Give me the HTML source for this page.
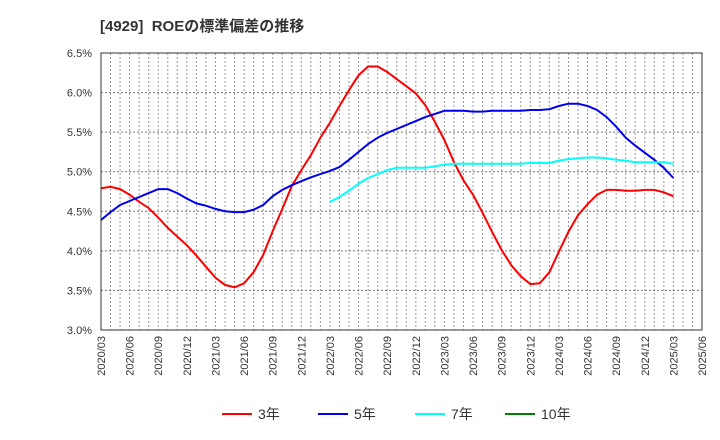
<!DOCTYPE html>
<html><head><meta charset="utf-8"><style>body{margin:0;background:#fff}svg{display:block;font-family:"Liberation Sans","Noto Sans CJK JP",sans-serif}</style></head>
<body>
<svg id="c" width="720" height="440">
<text x="100" y="31" font-size="15" font-weight="bold" fill="#333" style="white-space:pre">[4929]  ROEの標準偏差の推移</text>
<g id="grid"></g><g id="axes"></g><g id="series"></g>
<g id="legend"></g>
</svg>
<script>
const ticksY=[3.0,3.5,4.0,4.5,5.0,5.5,6.0,6.5];
const ticksX=["2020/03","2020/06","2020/09","2020/12","2021/03","2021/06","2021/09","2021/12","2022/03","2022/06","2022/09","2022/12","2023/03","2023/06","2023/09","2023/12","2024/03","2024/06","2024/09","2024/12","2025/03","2025/06"];
const s3=[4.79,4.81,4.78,4.71,4.62,4.54,4.42,4.29,4.18,4.07,3.94,3.80,3.66,3.57,3.54,3.59,3.73,3.95,4.25,4.53,4.82,5.02,5.21,5.43,5.62,5.83,6.03,6.22,6.33,6.33,6.26,6.17,6.08,5.99,5.84,5.63,5.40,5.12,4.89,4.71,4.48,4.24,4.01,3.82,3.68,3.58,3.59,3.73,3.99,4.24,4.45,4.59,4.71,4.77,4.77,4.76,4.76,4.77,4.77,4.74,4.69];
const s5=[4.39,4.49,4.58,4.63,4.68,4.73,4.78,4.78,4.73,4.66,4.60,4.57,4.53,4.50,4.49,4.49,4.52,4.58,4.69,4.77,4.83,4.88,4.93,4.97,5.01,5.06,5.15,5.25,5.35,5.43,5.49,5.54,5.59,5.64,5.69,5.73,5.77,5.77,5.77,5.76,5.76,5.77,5.77,5.77,5.77,5.78,5.78,5.79,5.83,5.86,5.86,5.83,5.78,5.69,5.57,5.43,5.33,5.24,5.15,5.05,4.92];
const s7=[null,null,null,null,null,null,null,null,null,null,null,null,null,null,null,null,null,null,null,null,null,null,null,null,4.62,4.68,4.76,4.85,4.92,4.97,5.02,5.05,5.05,5.05,5.05,5.07,5.09,5.10,5.10,5.10,5.10,5.10,5.10,5.10,5.10,5.11,5.11,5.11,5.14,5.16,5.17,5.18,5.18,5.17,5.15,5.14,5.12,5.12,5.12,5.12,5.10];
const s10=[];
const L=101,R=702,T=53,B=330,months=63;
const X=i=>L+i*(R-L)/months, Y=v=>B-(v-3.0)/3.5*(B-T);
const ns="http://www.w3.org/2000/svg";
function mk(p,t,a){const e=document.createElementNS(ns,t);for(const k in a)e.setAttribute(k,a[k]);p.appendChild(e);return e;}
const g=document.getElementById('grid'),ax=document.getElementById('axes'),sr=document.getElementById('series'),lg=document.getElementById('legend');
for(let m=1;m<months;m++){const l=mk(g,'line',{x1:X(m),x2:X(m),y1:T,y2:B,stroke:'#999','stroke-dasharray':'2,2'});

}
ticksY.forEach(v=>{const y=Y(v);
if(v>3&&v<6.5){const l=mk(g,'line',{x1:L,x2:R,y1:y,y2:y,stroke:'#777','stroke-dasharray':'2,2'});

}
const t=mk(ax,'text',{x:92,y:y+4,'font-size':11,'text-anchor':'end',fill:'#333'});t.textContent=v.toFixed(1)+'%';

});
ticksX.forEach((s,i)=>{const x=X(i*3);const t=mk(ax,'text',{transform:`translate(${x+4},${B+6}) rotate(-90)`,'font-size':11,'text-anchor':'end',fill:'#333'});t.textContent=s;

});
const fr=mk(ax,'rect',{x:L,y:T,width:R-L,height:B-T,fill:'none',stroke:'#333'});


function line(arr,col,name){let d='';arr.forEach((v,i)=>{if(v==null)return;d+=(d?'L':'M')+X(i).toFixed(1)+','+Y(v).toFixed(1);});
if(!d)return;const p=mk(sr,'path',{d:d,fill:'none',stroke:col,'stroke-width':2});

}
line(s3,'#ff0000','series-3y');line(s5,'#0000ee','series-5y');line(s7,'#00ffff','series-7y');line(s10,'#008000','series-10y');
[['3年','#ff0000',222],['5年','#0000ee',318],['7年','#00ffff',415],['10年','#008000',505]].forEach(([n,c,x])=>{
const l=mk(lg,'line',{x1:x,x2:x+30,y1:414,y2:414,stroke:c,'stroke-width':2});


const t=mk(lg,'text',{x:x+36,y:419,'font-size':14,fill:'#333'});t.textContent=n;

});
</script>
</body></html>
